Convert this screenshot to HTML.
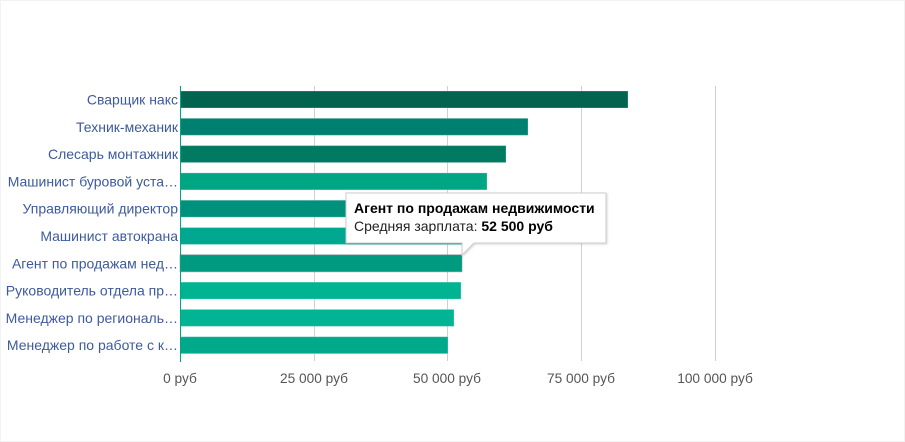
<!DOCTYPE html>
<html><head><meta charset="utf-8"><style>
body{margin:0;background:#fff;}
svg{display:block;font-family:"Liberation Sans",Arial,sans-serif;}
</style></head><body>
<svg width="905" height="442" xmlns="http://www.w3.org/2000/svg">
<rect x="0" y="0" width="905" height="442" fill="#fff"/>
<rect x="0.5" y="0.5" width="904" height="441" fill="none" stroke="#f2f2f2"/>
<g stroke="#d0d0d0" stroke-width="1">
<line x1="314.5" y1="86" x2="314.5" y2="361"/>
<line x1="447.5" y1="86" x2="447.5" y2="361"/>
<line x1="581.5" y1="86" x2="581.5" y2="361"/>
<line x1="715.5" y1="86" x2="715.5" y2="361"/>
</g>
<g stroke="#ffffff" stroke-opacity="0.25">
<rect x="180" y="91" width="448" height="17" fill="#02644f"/>
<rect x="180" y="118.3" width="348" height="17" fill="#008070"/>
<rect x="180" y="145.6" width="326" height="17" fill="#017a62"/>
<rect x="180" y="172.9" width="307" height="17" fill="#00a584"/>
<rect x="180" y="200.2" width="300" height="17" fill="#00917d"/>
<rect x="180" y="227.5" width="290" height="17" fill="#00a890"/>
<rect x="180" y="254.8" width="282" height="17" fill="#009a80" stroke="#888" stroke-opacity="0.5"/>
<rect x="180" y="282.1" width="281" height="17" fill="#00b391"/>
<rect x="180" y="309.4" width="274" height="17" fill="#00b494"/>
<rect x="180" y="336.7" width="268" height="17" fill="#00a98a"/>
</g>
<line x1="180.5" y1="86" x2="180.5" y2="362" stroke="#00a584" stroke-width="1"/>
<g font-size="14" fill="#3d5a9e" text-anchor="end">
<text x="178" y="104.5">Сварщик накс</text>
<text x="178" y="131.8">Техник-механик</text>
<text x="178" y="159.1">Слесарь монтажник</text>
<text x="178" y="186.4">Машинист буровой уста…</text>
<text x="178" y="213.7">Управляющий директор</text>
<text x="178" y="241">Машинист автокрана</text>
<text x="178" y="268.3">Агент по продажам нед…</text>
<text x="178" y="295.6">Руководитель отдела пр…</text>
<text x="178" y="322.9">Менеджер по региональ…</text>
<text x="178" y="350.2">Менеджер по работе с к…</text>
</g>
<g font-size="13.7" fill="#555" text-anchor="middle">
<text x="180" y="383">0 руб</text>
<text x="314" y="383">25 000 руб</text>
<text x="447" y="383">50 000 руб</text>
<text x="581" y="383">75 000 руб</text>
<text x="715" y="383">100 000 руб</text>
</g>
<path d="M346 193 H606 V243 H474 L462 255 L462 243 H346 Z" fill="#fff" stroke="#ccc" stroke-width="1" style="filter:drop-shadow(1px 1px 1px rgba(0,0,0,0.15))"/>
<text x="354" y="213" font-size="14" font-weight="bold" fill="#000">Агент по продажам недвижимости</text>
<text x="354" y="231" font-size="14" fill="#222">Средняя зарплата: <tspan font-weight="bold" fill="#000">52 500 руб</tspan></text>
</svg>
</body></html>
